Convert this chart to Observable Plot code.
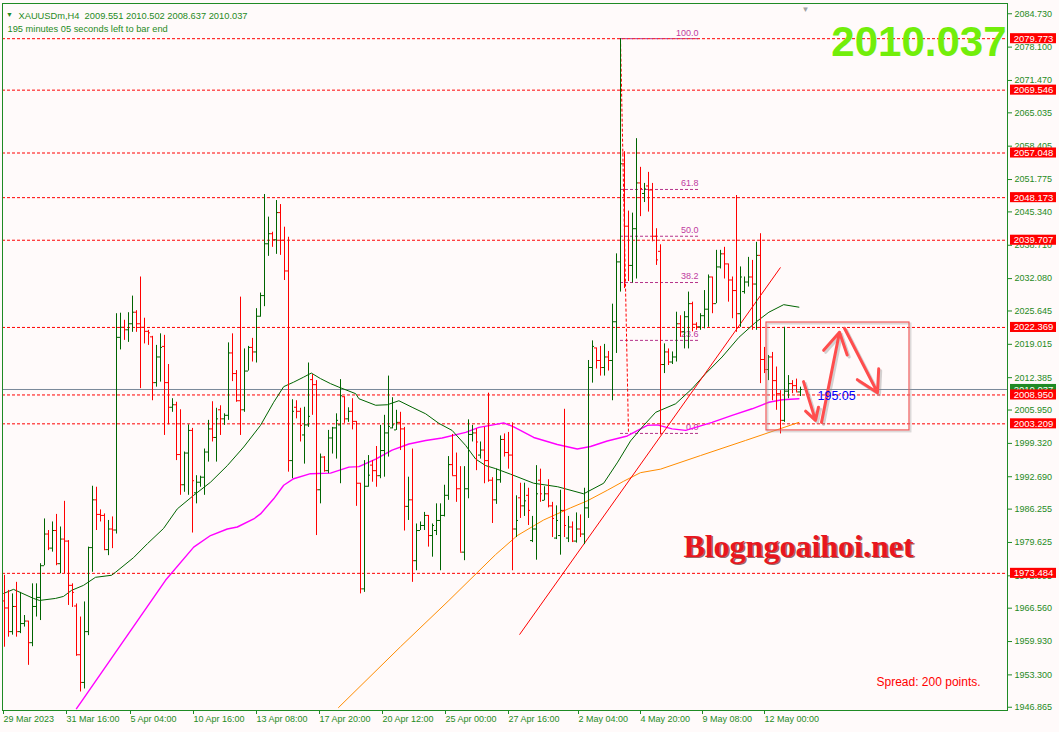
<!DOCTYPE html>
<html><head><meta charset="utf-8">
<script src="https://cdn.jsdelivr.net/npm/d3@7"></script>
<script src="https://cdn.jsdelivr.net/npm/@observablehq/plot@0.6"></script>
<style>
html,body{margin:0;padding:0;background:#fffafa;}
#chart{width:1059px;height:732px;overflow:hidden}
</style></head><body><div id="chart"></div>
<script>
// ---- OHLC bars (H4), index 0 = 29 Mar 2023 00:00 ----
const opens = [1968.0,1966.6,1961.9,1966.9,1961.9,1963.5,1964.0,1959.7,1966.9,1968.7,
1975.0,1981.3,1978.5,1982.0,1975.4,1980.3,1979.9,1971.1,1967.0,1957.3,
1951.8,1961.9,1978.6,1988.1,1985.2,1985.0,1978.2,1982.3,1982.1,2020.4,
2022.4,2021.9,2023.1,2025.4,2023.1,2022.4,2021.6,2020.5,2011.4,2016.5,
2018.6,2011.4,2006.5,2007.0,1997.1,1991.1,1997.4,2001.9,1989.5,1991.6,
1992.6,1997.6,2002.2,2000.5,2006.0,2004.2,2004.9,2017.3,2013.2,2007.8,
2006.0,2013.7,2018.4,2017.5,2024.6,2028.7,2039.0,2041.0,2039.8,2045.2,
2039.7,2033.6,1995.9,2006.5,2005.7,2001.0,2003.0,2012.0,2011.0,1990.1,
1996.6,1993.9,2000.4,2002.4,2003.0,2008.6,2004.2,2005.7,2003.7,1991.4,
1970.4,1990.8,1995.0,1993.9,1992.9,1997.9,2001.4,2002.4,2002.0,2003.5,
2002.2,1986.8,1988.1,1976.0,1982.0,1983.0,1985.0,1981.0,1982.0,1984.0,
1985.0,1989.0,1995.1,1992.9,1990.3,1977.7,1990.3,2001.1,2001.4,1997.0,
1998.0,1995.9,1992.0,1988.1,1992.1,2000.1,1997.5,1997.0,1982.3,1988.5,
1986.9,1989.0,1980.0,1982.3,1992.0,1988.0,1989.3,1986.9,1980.5,1981.0,
1986.0,1980.5,1982.7,1979.9,1982.3,1981.3,1986.5,2014.4,2018.3,2015.8,
2014.4,2016.5,2015.8,2023.5,2035.4,2054.9,2042.5,2034.7,2042.0,2051.1,
2049.0,2050.5,2049.7,2040.5,2037.5,2015.0,2017.5,2015.5,2016.5,2023.1,
2021.5,2024.5,2027.1,2023.0,2022.5,2024.7,2026.0,2032.4,2027.1,2034.4,
2037.0,2035.0,2031.8,2029.7,2025.1,2029.5,2031.4,2032.4,2031.0,2036.7,
2016.0,2014.0,2016.5,2011.8,2009.2,2003.9,2009.7,2011.2,2010.8,2009.551];
const highs = [1973.1,1970.1,1969.4,1971.7,1969.7,1965.1,1964.0,1971.4,1971.4,1975.4,
1984.3,1982.0,1983.7,1985.2,1982.7,1987.8,1980.0,1971.4,1967.4,1964.8,
1967.8,1978.7,1990.8,1990.6,1986.1,1985.3,1984.0,1984.7,2025.1,2025.2,
2023.8,2025.3,2028.6,2025.7,2032.4,2024.2,2021.8,2020.6,2018.8,2021.1,
2020.8,2015.0,2008.2,2007.5,2006.0,1997.6,2003.0,2002.3,1992.9,1992.8,
1998.2,2003.9,2007.6,2006.3,2006.8,2005.2,2019.3,2021.1,2013.8,2028.4,
2018.1,2018.6,2020.2,2026.1,2029.2,2048.8,2044.3,2041.3,2047.6,2046.8,
2042.3,2040.3,2008.0,2007.8,2006.3,2006.5,2015.3,2013.0,2011.8,1997.2,
1996.7,2001.9,2002.5,2005.2,2012.0,2008.6,2006.4,2008.2,2003.7,1991.4,
1995.9,1996.9,1995.9,1998.7,2002.9,2004.9,2012.7,2008.4,2005.9,2005.5,
2002.5,1992.6,1998.2,1983.3,1983.7,1985.6,1985.0,1983.3,1987.3,1987.3,
1991.0,1996.7,2001.1,1997.4,1994.7,1994.7,2004.0,2002.9,2002.2,1999.6,
2002.5,2009.3,1992.5,1994.2,2000.8,2001.2,2001.5,2003.4,1988.9,1991.4,
1991.4,1990.4,1984.8,1994.9,1994.2,1990.7,1992.1,1987.6,1986.9,1990.0,
2006.1,1984.8,1983.7,1985.5,1985.1,1990.4,2015.8,2019.7,2018.3,2018.6,
2019.0,2017.6,2027.0,2037.0,2079.773,2057.3,2045.5,2045.1,2059.9,2054.2,
2051.0,2053.2,2051.0,2042.0,2038.8,2019.1,2018.1,2017.5,2025.4,2024.7,
2025.5,2029.4,2027.4,2023.3,2025.1,2029.7,2032.8,2032.4,2037.7,2037.7,
2038.3,2035.0,2032.4,2048.6,2034.4,2032.4,2036.3,2035.7,2039.3,2041.0,
2018.4,2016.8,2017.4,2014.5,2009.8,2022.4,2012.8,2011.8,2012.1,2010.502];
const lows = [1958.8,1960.8,1961.2,1960.8,1961.5,1962.8,1955.2,1958.9,1964.8,1964.1,
1975.0,1978.0,1977.7,1975.0,1973.4,1973.4,1967.1,1966.7,1957.0,1949.9,
1950.5,1961.1,1973.7,1982.0,1983.7,1978.0,1977.0,1978.4,1981.3,2017.9,
2019.8,2019.4,2021.4,2021.4,2010.2,2019.1,2018.8,2007.8,2010.5,2011.5,
2000.9,2003.0,2005.5,1995.9,1989.0,1989.6,1989.0,1981.5,1987.3,1990.6,
1989.0,1995.6,1999.6,1995.6,2000.9,2002.9,2003.9,2011.6,2007.5,2000.9,
2005.5,2013.7,2015.5,2015.3,2024.4,2026.5,2036.5,2038.3,2036.9,2036.7,
2031.7,1993.6,1992.3,2004.2,1999.6,1995.2,2002.5,2004.9,1981.0,1987.3,
1993.6,1993.3,1997.2,1996.2,1991.3,2003.3,2003.5,2002.0,1986.8,1969.4,
1969.7,1990.6,1991.6,1990.6,1992.3,1992.6,1996.6,2002.2,2001.9,1997.9,
1981.9,1984.0,1971.7,1974.0,1982.0,1982.0,1978.7,1976.7,1981.0,1974.0,
1984.7,1988.0,1992.9,1987.6,1977.7,1976.0,1988.3,1999.6,1993.9,1996.2,
1991.3,1991.6,1983.4,1987.2,1991.4,1996.6,1994.2,1974.0,1980.6,1984.4,
1984.8,1983.0,1979.6,1976.1,1987.6,1987.9,1986.5,1980.6,1980.2,1977.1,
1980.6,1979.6,1979.6,1979.5,1980.6,1979.2,1984.4,2011.3,2014.1,2012.7,
2012.7,2013.7,2007.8,2017.2,2029.4,2030.1,2031.5,2031.2,2032.0,2044.4,
2047.2,2045.3,2039.4,2034.7,2001.0,2013.2,2014.8,2015.0,2015.5,2020.4,
2018.1,2018.1,2021.5,2021.8,2021.8,2022.1,2022.4,2025.1,2027.1,2034.0,
2032.0,2027.4,2024.1,2021.4,2022.4,2029.0,2030.4,2021.8,2021.8,2011.2,
2013.2,2011.8,2007.8,2005.9,2001.2,2003.5,2008.2,2009.2,2009.5,2008.637];
const closes = [1966.6,1961.9,1966.9,1961.9,1963.5,1964.0,1959.7,1966.9,1968.7,1975.0,
1981.3,1978.5,1982.0,1975.4,1980.3,1979.9,1971.1,1969.7,1957.3,1951.8,
1961.9,1978.6,1988.1,1985.2,1985.0,1978.2,1982.3,1982.1,2020.4,2022.4,
2021.9,2023.1,2025.4,2023.1,2022.4,2021.6,2021.3,2011.4,2016.5,2018.4,
2011.4,2006.5,2007.0,1997.1,1991.1,1997.4,2001.9,1991.9,1991.6,1992.6,
1997.6,2002.2,2000.5,2004.2,2004.2,2004.9,2017.3,2013.2,2007.8,2006.0,
2013.7,2018.4,2017.5,2024.6,2028.7,2039.0,2041.0,2039.8,2045.2,2039.7,
2033.6,1995.9,2005.7,2005.7,2002.9,2003.0,2004.7,2011.0,1990.1,1996.6,
1993.9,2000.4,2002.4,2003.9,2008.8,2004.2,2005.7,2003.7,1991.4,1970.4,
1990.8,1993.0,1993.9,1992.9,1997.9,2001.4,2002.7,2003.0,2003.5,2002.2,
1986.8,1988.1,1976.0,1982.0,1983.0,1985.0,1981.0,1983.0,1984.0,1985.0,
1989.0,1995.1,1992.9,1990.3,1977.7,1990.3,2001.1,2001.4,1999.6,1998.0,
1995.9,1992.0,1988.1,1992.1,2000.1,1997.5,1997.0,1982.3,1984.0,1986.9,
1987.9,1986.0,1982.3,1989.3,1989.3,1989.3,1986.9,1984.4,1984.0,1986.0,
1983.0,1982.7,1979.9,1982.3,1981.3,1986.5,2014.4,2018.6,2015.8,2014.4,
2016.5,2015.8,2023.5,2035.4,2054.9,2042.5,2034.7,2042.0,2051.1,2050.0,
2049.9,2049.7,2040.5,2035.8,2015.0,2017.5,2015.5,2016.5,2023.1,2021.5,
2024.5,2027.1,2023.0,2022.5,2024.7,2026.0,2032.4,2027.1,2034.4,2037.0,
2035.0,2031.8,2029.7,2025.1,2032.4,2031.4,2032.4,2031.0,2036.7,2016.0,
2014.0,2016.5,2011.8,2009.2,2003.9,2009.7,2011.2,2010.8,2009.551,2010.037];

// ---- moving averages (bar index, price) ----
const maFastIdx = [-0.2,2.25,7.25,8.75,12.75,14.75,16.75,19.75,22.75,26.75,27.75,32.25,35.75,39.75,43.2,47.3,51.5,55.7,59.8,64,67.3,69.8,72.3,74.8,76.7,79,81.5,83.6,87.8,88.6,92.8,95.7,98.6,101.9,105.3,108.6,111.9,115.3,117.8,120.3,122.8,126.5,132.3,138.3,144.8,149.8,153.3,156.5,159.8,162.8,167.8,171.9,175.3,179.4,183.6,187.8,191.1,194.8,198.6];
const maFastVal = [1969.5,1970.3,1968.5,1968.1,1968.5,1968.9,1970.1,1971.1,1972.7,1973.1,1973.7,1976.6,1979.4,1982.4,1986.3,1989.0,1991.6,1994.9,1998.6,2002.9,2007.5,2010.6,2011.5,2012.5,2013.3,2012.2,2011.2,2010.5,2009.2,2008.2,2006.9,2007.0,2007.8,2006.5,2005.2,2003.3,2001.9,1998.9,1996.2,1994.9,1994.3,1993.2,1991.4,1990.7,1989.3,1991.4,1995.6,1999.8,2002.9,2005.5,2007.2,2010.2,2013.2,2016.5,2020.4,2023.4,2025.4,2026.9,2026.4];
const maMidIdx = [18,19.4,40.25,47.3,51.5,55.7,58.2,62.3,64,67.3,69.8,72.3,76.5,81.5,86.1,88.6,92.8,96.9,101.1,105.3,109.4,115.3,118.6,121.5,124.8,127.3,132.3,138.2,143.2,146.5,150.7,155.7,160.7,163.2,166.9,170.3,172.8,176.9,181.9,186.9,191.1,194.4,198.6];
const maMidVal = [1946.6,1948.2,1972.1,1978.7,1981.0,1982.3,1982.7,1984.3,1985.3,1988.3,1991.0,1992.3,1993.3,1993.4,1994.6,1994.7,1996.2,1998.0,1999.2,1999.9,2000.4,2001.5,2002.5,2002.9,2003.4,2002.6,2000.5,1999.1,1998.2,1998.7,1999.8,2000.8,2002.9,2003.0,2002.2,2001.9,2002.5,2003.5,2004.9,2006.2,2007.5,2008.0,2008.2];
const maSlowIdx = [83.5,99,111.1,122.75,128.2,134.8,141.5,145.7,150.7,154.8,159,164,174,185.25,198.6];
const maSlowVal = [1946.8,1958.9,1968.1,1977.2,1981.0,1984.1,1986.5,1987.9,1990.0,1991.8,1993.5,1994.2,1996.9,1999.9,2003.5];

// ---- levels, ticks, labels ----
const levels = [2079.773,2069.546,2057.048,2048.173,2039.707,2022.369,2008.950,2003.209,1973.484];
const lastPrice = 2010.037;
const priceTicks = [2084.730,2078.100,2071.470,2065.035,2058.405,2051.775,2045.340,2038.710,2032.080,2025.645,2019.015,2012.385,2005.950,1999.320,1992.690,1986.255,1979.625,1972.995,1966.560,1959.930,1953.300,1946.865];
const timeTickPos = [-0.25,15.5,31.5,47.25,63,78.75,94.5,110.25,126,143.5,159,174.5,190];
const timeTickLabels = ["29 Mar 2023","31 Mar 16:00","5 Apr 04:00","10 Apr 16:00","13 Apr 08:00","17 Apr 20:00","20 Apr 12:00","25 Apr 00:00","27 Apr 16:00","2 May 04:00","4 May 20:00","9 May 08:00","12 May 00:00"];
const fibLabels = ["100.0","61.8","50.0","38.2","23.6","0.0"];
const fibPrices = [2079.773,2049.8,2040.5,2031.3,2019.8,2001.3];
const fibStartIdx = 154, fibEndIdx = 174, fibDiagEndIdx = 156;
const trendLine = [[128.75,1961.3],[194,2034.3]];
const boxCorners = {x1:190.5, x2:226.25, y1:2001.9, y2:2023.35};
const arrowsData = [
  {x1:199.75,y1:2011.6,x2:202.75,y2:2003.9},
  {x1:204.25,y1:2003.5,x2:208.75,y2:2021.4},
  {x1:210,y1:2022.2,x2:218.25,y2:2009.4}
];
const headerLine1 = "XAUUSDm,H4  2009.551 2010.502 2008.637 2010.037";
const headerLine2 = "195 minutes 05 seconds left to bar end";
const timerText = "195:05";
const watermark = "Blogngoaihoi.net";
const spreadText = "Spread: 200 points.";

const bars = opens.map((o,i)=>({i, o, h:highs[i], l:lows[i], c:closes[i]}));
const UP = "#006400", DOWN = "#ff0000", AX = "#1f8a24";
const col = d => d.c >= d.o ? UP : DOWN;
const txtFont = "Liberation Sans, Arial, sans-serif";

const chart = Plot.plot({
  width: 1059, height: 732,
  marginLeft: 2, marginRight: 52, marginTop: 3, marginBottom: 22,
  x: {domain: [-0.5, 250.75], axis: null, label: null},
  y: {domain: [1946.22, 2086.77], axis: null, label: null},
  style: {background: "#fffafa", fontFamily: txtFont, overflow: "visible"},
  marks: [
    Plot.ruleY(levels, {stroke: "#ff0000", strokeWidth: 1, strokeDasharray: "3,2"}),
    Plot.ruleY([lastPrice], {stroke: "#7a8899", strokeWidth: 1}),
    Plot.ruleY(fibPrices, {x1: () => fibStartIdx, x2: () => fibEndIdx, stroke: "#b5338a", strokeDasharray: "3,2"}),
    Plot.text(fibPrices, {x: () => fibEndIdx - 0.5, y: d => d, text: (d,i) => fibLabels[i], textAnchor: "end", dy: -6, fill: "#c03aa0", fontSize: 9}),
    Plot.link([0], {x1: () => fibStartIdx, y1: () => fibPrices[0], x2: () => fibDiagEndIdx, y2: () => fibPrices[5], stroke: "#ff0000", strokeDasharray: "3,2"}),
    Plot.line(maSlowIdx, {x: d => d, y: (d,i) => maSlowVal[i], stroke: "#ff8c00", strokeWidth: 1, clip: true}),
    Plot.line(maMidIdx, {x: d => d, y: (d,i) => maMidVal[i], stroke: "#ff00ff", strokeWidth: 1.4, clip: true}),
    Plot.line(maFastIdx, {x: d => d, y: (d,i) => maFastVal[i], stroke: "#006400", strokeWidth: 1, clip: true}),
    Plot.link([trendLine], {x1: d => d[0][0], y1: d => d[0][1], x2: d => d[1][0], y2: d => d[1][1], stroke: "#ff0000", strokeWidth: 1}),
    Plot.ruleX(bars, {x: "i", y1: "l", y2: "h", stroke: col, strokeWidth: 1}),
    Plot.ruleY(bars, {y: "o", x1: d => d.i - 0.5, x2: "i", stroke: col, strokeWidth: 1}),
    Plot.ruleY(bars, {y: "c", x1: "i", x2: d => d.i + 0.5, stroke: col, strokeWidth: 1}),
    // box + arrows
    Plot.rect([boxCorners], {x1: "x1", x2: "x2", y1: "y1", y2: "y2", fill: "none", stroke: "#9a9a9a", strokeOpacity: 0.35, strokeWidth: 2, dx: 1.5, dy: 1.5}),
    Plot.rect([boxCorners], {x1: "x1", x2: "x2", y1: "y1", y2: "y2", fill: "none", stroke: "#f05a5a", strokeWidth: 1.2}),
    Plot.arrow(arrowsData, {x1: "x1", y1: "y1", x2: "x2", y2: "y2", stroke: "#808080", strokeOpacity: 0.35, strokeWidth: 3, headLength: 12, dx: 2, dy: 2}),
    Plot.arrow(arrowsData, {x1: "x1", y1: "y1", x2: "x2", y2: "y2", stroke: "#ff4d4d", strokeWidth: 3, headLength: 12}),
    Plot.text([timerText], {x: () => 203.25, y: () => 2008.8, text: d => d, textAnchor: "start", fill: "#0000ff", fontSize: 12.5}),
    // watermark & spread
    Plot.text([watermark], {x: () => 198.5, y: () => 1978.8, text: d => d, fontFamily: "Liberation Serif, serif", fontWeight: "bold", fontSize: 32, fill: "#5a0000", fillOpacity: 0.6, dx: 1.5, dy: 1.5}),
    Plot.text([watermark], {x: () => 198.5, y: () => 1978.8, text: d => d, fontFamily: "Liberation Serif, serif", fontWeight: "bold", fontSize: 32, fill: "#e8161e"}),
    Plot.text([spreadText], {x: () => 218, y: () => 1951.8, text: d => d, textAnchor: "start", fill: "#ff0000", fontSize: 12}),
    // header
    Plot.text(["\u25BC"], {frameAnchor: "top-left", dx: 7, dy: 9, text: d => d, fill: "#1f8a24", fontSize: 7, textAnchor: "middle"}),
    Plot.text([headerLine1], {frameAnchor: "top-left", dx: 16, dy: 9, text: d => d, textAnchor: "start", fill: "#1f8a24", fontSize: 9.3}),
    Plot.text([headerLine2], {frameAnchor: "top-left", dx: 5, dy: 22, text: d => d, textAnchor: "start", fill: "#1f8a24", fontSize: 9.3}),
    Plot.text(["\u25BC"], {frameAnchor: "top-left", dx: 803, dy: 3, text: d => d, fill: "#a0a0a0", fontSize: 8, textAnchor: "middle"}),
    Plot.text([lastPrice], {frameAnchor: "top-right", dx: -1, dy: 22.5, text: d => d.toFixed(3), textAnchor: "end", fontWeight: "bold", fontSize: 42, fill: "#72ee0a", ariaLabel: "bigprice"}),
    // axes
    Plot.axisY(priceTicks, {anchor: "right", tickFormat: d => d.toFixed(3), tickSize: 4, tickPadding: 3, fontSize: 9, color: AX, label: null}),
    Plot.axisX(timeTickPos, {anchor: "bottom", tickFormat: d => timeTickLabels[timeTickPos.indexOf(d)], textAnchor: "start", tickSize: 4, tickPadding: 1, fontSize: 9, color: AX, label: null}),
    // price label boxes
    Plot.rect([lastPrice], {x1: () => 251.5, x2: () => 263, y1: d => d - 1.0, y2: d => d + 1.0, fill: "#1f8a24"}),
    Plot.text([lastPrice], {x: () => 257.25, y: d => d, text: d => d.toFixed(3), fill: "white", fontSize: 9.5}),
    Plot.rect(levels, {x1: () => 251.5, x2: () => 263, y1: d => d - 1.0, y2: d => d + 1.0, fill: "#ff0000"}),
    Plot.text(levels, {x: () => 257.25, y: d => d, text: d => d.toFixed(3), fill: "white", fontSize: 9.5}),
    Plot.frame({stroke: AX, strokeWidth: 1})
  ]
});
document.getElementById("chart").appendChild(chart);
d3.select(chart).selectAll('g[aria-label="bigprice"] text')
  .attr("textLength", 158).attr("lengthAdjust", "spacingAndGlyphs");
</script></body></html>
